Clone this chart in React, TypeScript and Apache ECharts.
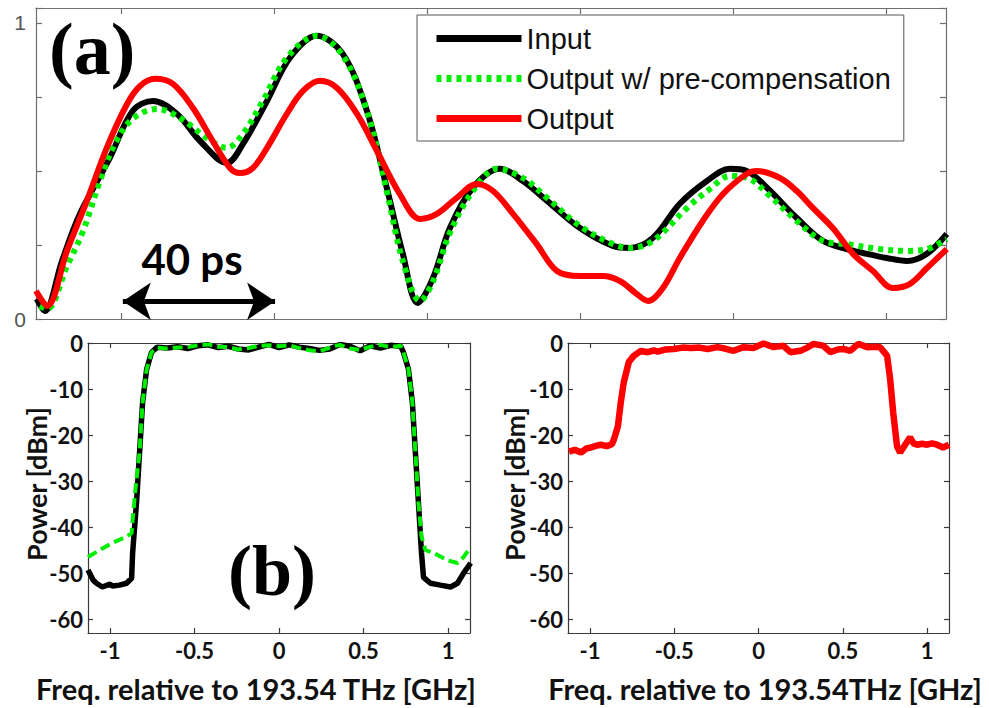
import React, { useEffect, useRef } from "react";
import * as echarts from "echarts";

// ---------- Panel (a): temporal intensity (normalized), time in ps ----------
const inputTop: [number, number][] = [
  [-22.0, 0.068], [-19.9, 0.027], [-15.4, 0.196], [-10.7, 0.355], [-2.9, 0.544], [3.1, 0.703],
  [8.4, 0.736], [14.6, 0.693], [20.7, 0.601], [27.7, 0.527], [31.9, 0.591], [38.2, 0.736],
  [44.2, 0.882], [51.2, 0.956], [58.0, 0.895], [64.3, 0.703], [69.5, 0.443], [73.7, 0.22],
  [77.6, 0.054], [81.6, 0.139], [86.0, 0.307], [92.0, 0.443], [99.1, 0.507], [105.1, 0.466],
  [111.4, 0.399], [120.0, 0.307], [128.6, 0.247], [133.1, 0.24], [139.1, 0.274], [146.1, 0.389],
  [153.2, 0.466], [159.2, 0.507], [163.6, 0.5], [168.9, 0.443], [176.7, 0.341], [183.5, 0.264],
  [189.8, 0.236], [194.0, 0.223], [200.2, 0.206], [205.5, 0.196], [210.7, 0.22], [215.9, 0.287],
];

const precompTop: [number, number][] = [
  [-21.2, 0.044], [-19.3, 0.034], [-14.1, 0.179], [-9.9, 0.297], [-5.5, 0.466], [-1.6, 0.591],
  [3.1, 0.676], [9.4, 0.709], [15.4, 0.679], [22.5, 0.611], [27.7, 0.578], [31.9, 0.625],
  [37.1, 0.736], [43.4, 0.882], [51.2, 0.956], [58.0, 0.889], [64.3, 0.703], [69.5, 0.432],
  [73.7, 0.196], [78.2, 0.061], [81.6, 0.128], [86.0, 0.291], [92.0, 0.432], [98.3, 0.507],
  [105.1, 0.476], [111.4, 0.409], [120.0, 0.314], [128.6, 0.253], [133.1, 0.24], [139.1, 0.264],
  [148.0, 0.375], [154.0, 0.439], [159.2, 0.483], [164.4, 0.473], [169.6, 0.416], [176.7, 0.331],
  [183.5, 0.264], [189.8, 0.253], [198.4, 0.236], [205.5, 0.23], [210.7, 0.236], [215.9, 0.27],
];

const outputTop: [number, number][] = [
  [-22.2, 0.095], [-19.3, 0.044], [-14.1, 0.23], [-8.9, 0.399], [-3.7, 0.578], [1.6, 0.726],
  [5.0, 0.787], [8.9, 0.811], [13.6, 0.794], [18.8, 0.713], [24.0, 0.601], [28.5, 0.51],
  [31.1, 0.493], [34.5, 0.51], [38.2, 0.578], [43.4, 0.693], [47.6, 0.77], [52.0, 0.804],
  [56.5, 0.78], [61.7, 0.693], [66.9, 0.568], [72.9, 0.422], [78.2, 0.338], [82.6, 0.355],
  [87.8, 0.409], [93.1, 0.456], [97.3, 0.432], [102.5, 0.355], [108.7, 0.253], [114.0, 0.162],
  [120.0, 0.145], [126.0, 0.145], [130.5, 0.128], [134.9, 0.084], [137.8, 0.061], [141.7, 0.105],
  [146.1, 0.206], [152.1, 0.331], [157.4, 0.422], [163.6, 0.49], [166.3, 0.5], [172.3, 0.476],
  [176.7, 0.432], [180.9, 0.375], [186.1, 0.307], [191.4, 0.22], [196.6, 0.162], [201.8, 0.105],
  [206.2, 0.118], [210.7, 0.172], [215.9, 0.236],
];

const timeTicks = [0, 40, 80, 120, 160, 200];
const intensityLabels = [0, 1];

// ---------- Panel (b): spectra, GHz vs dBm ----------
const inputSpectrum: [number, number][] = [
  [-1.13, -49.3], [-1.1, -51.5], [-1.08, -52.2], [-1.045, -53], [-1.0, -52.4], [-0.985, -52.8],
  [-0.944, -52.6], [-0.902, -52.2], [-0.872, -51.1], [-0.866, -45.6], [-0.843, -34.7],
  [-0.825, -23.8], [-0.807, -12.9], [-0.783, -5.7], [-0.754, -2.0], [-0.72, -0.9],
  [-0.66, -1.1], [-0.6, -0.8], [-0.54, -1.2], [-0.48, -0.6], [-0.42, -0.4], [-0.36, -1.0],
  [-0.3, -0.7], [-0.24, -1.3], [-0.18, -1.5], [-0.12, -0.9], [-0.06, -0.3], [0, -1.0],
  [0.06, -0.4], [0.12, -0.9], [0.18, -1.2], [0.24, -1.6], [0.3, -1.3], [0.36, -0.3],
  [0.42, -0.7], [0.48, -1.7], [0.54, -0.6], [0.6, -1.1], [0.66, -0.5], [0.72, -0.7],
  [0.736, -2], [0.766, -5.7], [0.789, -12.9], [0.807, -23.8], [0.825, -34.7], [0.843, -45.6],
  [0.855, -50.9], [0.896, -52.2], [0.955, -52.6], [1.015, -53], [1.056, -52.2], [1.092, -50],
  [1.134, -47.8],
];

const precompSpectrum: [number, number][] = [
  [-1.13, -46.5], [-1.062, -45], [-0.985, -43.4], [-0.902, -42.1], [-0.872, -41.3],
  [-0.866, -38.4], [-0.85, -32], [-0.825, -23.8], [-0.807, -12.9], [-0.783, -5.7],
  [-0.754, -2.0], [-0.72, -1.0], [-0.66, -1.2], [-0.6, -1.0], [-0.54, -0.9], [-0.48, -0.5],
  [-0.42, -0.3], [-0.36, -0.8], [-0.3, -0.9], [-0.24, -1.4], [-0.18, -1.1], [-0.12, -0.6],
  [-0.06, -0.5], [0, -0.7], [0.06, -0.5], [0.12, -1.1], [0.18, -1.6], [0.24, -1.8],
  [0.3, -1.0], [0.36, -0.4], [0.42, -1.2], [0.48, -1.5], [0.54, -0.8], [0.6, -0.4],
  [0.66, -0.9], [0.72, -0.6], [0.736, -2], [0.766, -5.7], [0.789, -12.9], [0.807, -23.8],
  [0.825, -34.7], [0.843, -42], [0.866, -45], [0.914, -45.6], [0.997, -47.2], [1.056, -47.8],
  [1.092, -46.5], [1.134, -44.3],
];

const outputSpectrum: [number, number][] = [
  [-1.124, -23.6], [-1.09, -23.2], [-1.053, -23.8], [-1.02, -22.9], [-0.994, -22.7],
  [-0.96, -22.3], [-0.935, -22.1], [-0.9, -22.4], [-0.87, -22], [-0.858, -21], [-0.834, -18.1],
  [-0.817, -12.9], [-0.799, -8.5], [-0.769, -4.1], [-0.74, -2.8], [-0.698, -1.7],
  [-0.657, -2.0], [-0.62, -1.6], [-0.598, -1.9], [-0.55, -1.4], [-0.503, -1.3], [-0.45, -1.0],
  [-0.402, -1.1], [-0.35, -1.0], [-0.302, -1.3], [-0.243, -0.9], [-0.2, -1.2], [-0.148, -1.7],
  [-0.089, -0.9], [-0.03, -1.1], [0.03, -0.1], [0.089, -0.9], [0.148, -0.6], [0.189, -2.0],
  [0.249, -1.7], [0.29, -1.0], [0.325, -0.2], [0.385, -0.6], [0.426, -2.0], [0.47, -1.4],
  [0.503, -1.3], [0.544, -1.7], [0.592, -0.2], [0.645, -0.9], [0.69, -0.8], [0.722, -0.9],
  [0.763, -2.8], [0.781, -7.9], [0.799, -15.1], [0.822, -22.5], [0.84, -23.8], [0.87, -22.1],
  [0.899, -20.5], [0.92, -21.8], [0.941, -22.1], [0.97, -21.9], [1.0, -22.1], [1.03, -21.8],
  [1.059, -22.1], [1.095, -22.7], [1.13, -22.1],
];

const freqTicks = [-1, -0.5, 0, 0.5, 1];
const powerTicks = [-60, -50, -40, -30, -20, -10, 0];

const legendNames = ["Input", "Output w/ pre-compensation", "Output"];
const xTitleLeft = "Freq. relative to 193.54 THz [GHz]";
const xTitleRight = "Freq. relative to 193.54THz [GHz]";
const yTitle = "Power [dBm]";

const BOLD_FONT = "Lato";

export default function App() {
  const ref = useRef<HTMLDivElement>(null);
  useEffect(() => {
    if (!ref.current) return;
    const chart = echarts.init(ref.current, undefined, { renderer: "svg" });

    const topLine = { lineStyle: { color: "#6e6e6e", width: 1.2 } };
    const botLine = { lineStyle: { color: "#3a3a3a", width: 1.2 } };

    const timeAxis = (pos: "bottom" | "top") => ({
      type: "value",
      gridIndex: 0,
      position: pos,
      min: -22.2,
      max: 215.7,
      axisLine: { show: true, onZero: false, ...topLine },
      axisTick: { show: true, inside: true, length: 6, customValues: timeTicks, ...topLine },
      axisLabel: { show: false },
      splitLine: { show: false },
    });
    const intensityAxis = (pos: "left" | "right") => ({
      type: "value",
      gridIndex: 0,
      position: pos,
      min: 0,
      max: 1.05,
      interval: 0.25,
      axisLine: { show: true, onZero: false, ...topLine },
      axisTick: { show: true, inside: true, length: 6, ...topLine },
      axisLabel: {
        show: pos === "left",
        margin: 10,
        color: "#555",
        fontFamily: "Liberation Sans",
        fontSize: 21,
        customValues: intensityLabels,
      },
      splitLine: { show: false },
    });
    const freqAxis = (grid: number, pos: "bottom" | "top") => ({
      type: "value",
      gridIndex: grid,
      position: pos,
      min: -1.13,
      max: 1.13,
      axisLine: { show: true, onZero: false, ...botLine },
      axisTick: { show: true, inside: true, length: 5, customValues: freqTicks, ...botLine },
      axisLabel: {
        show: pos === "bottom",
        customValues: freqTicks,
        margin: 6,
        color: "#111",
        fontFamily: BOLD_FONT,
        fontWeight: "bold",
        fontSize: 22,
      },
      splitLine: { show: false },
    });
    const powerAxis = (grid: number, pos: "left" | "right") => ({
      type: "value",
      gridIndex: grid,
      position: pos,
      min: -63,
      max: 0,
      axisLine: { show: true, onZero: false, ...botLine },
      axisTick: { show: true, inside: true, length: 5, customValues: powerTicks, ...botLine },
      axisLabel: {
        show: pos === "left",
        customValues: powerTicks,
        margin: 5,
        color: "#111",
        fontFamily: BOLD_FONT,
        fontWeight: "bold",
        fontSize: 22,
      },
      splitLine: { show: false },
    });

    const option: any = {
      animation: false,
      backgroundColor: "#ffffff",
      grid: [
        { left: 36, top: 8, width: 910, height: 311, outerBoundsMode: "none" },
        { left: 88, top: 343, width: 382, height: 290, outerBoundsMode: "none" },
        { left: 568, top: 343, width: 381, height: 290, outerBoundsMode: "none" },
      ],
      xAxis: [
        timeAxis("bottom"),
        timeAxis("top"),
        freqAxis(1, "bottom"),
        freqAxis(1, "top"),
        freqAxis(2, "bottom"),
        freqAxis(2, "top"),
      ],
      yAxis: [
        intensityAxis("left"),
        intensityAxis("right"),
        powerAxis(1, "left"),
        powerAxis(1, "right"),
        powerAxis(2, "left"),
        powerAxis(2, "right"),
      ],
      legend: {
        data: legendNames,
        orient: "vertical",
        left: 417,
        top: 15,
        itemWidth: 85,
        itemHeight: 14,
        itemGap: 11,
        padding: [9, 13, 8, 16],
        borderColor: "#555",
        borderWidth: 1,
        backgroundColor: "#fff",
        selectedMode: false,
        lineStyle: { width: 7 },
        itemStyle: { opacity: 0, borderWidth: 0 },
        textStyle: {
          fontFamily: "Liberation Sans",
          fontSize: 29,
          color: "#111",
          padding: [0, 0, 0, 0],
        },
      },
      series: [
        {
          name: "Input",
          type: "line",
          xAxisIndex: 0,
          yAxisIndex: 0,
          data: inputTop,
          symbol: "none",
          smooth: 0.35,
          lineStyle: { color: "#000", width: 6 },
          itemStyle: { color: "#000" },
        },
        {
          name: "Output w/ pre-compensation",
          type: "line",
          xAxisIndex: 0,
          yAxisIndex: 0,
          data: precompTop,
          symbol: "none",
          smooth: 0.35,
          lineStyle: { color: "#00ee00", width: 6, type: [5, 5], cap: "butt" },
          itemStyle: { color: "#00ee00" },
        },
        {
          name: "Output",
          type: "line",
          xAxisIndex: 0,
          yAxisIndex: 0,
          data: outputTop,
          symbol: "none",
          smooth: 0.35,
          lineStyle: { color: "#ff0000", width: 6 },
          itemStyle: { color: "#ff0000" },
        },
        {
          name: "40 ps marker",
          type: "line",
          xAxisIndex: 0,
          yAxisIndex: 0,
          data: [],
          silent: true,
          markLine: {
            silent: true,
            symbol: ["arrow", "arrow"],
            symbolSize: [28, 28],
            label: { show: false },
            lineStyle: { color: "#000", width: 5, type: "solid" },
            data: [[{ coord: [0.5, 0.06] }, { coord: [40.3, 0.06] }]],
          },
        },
        {
          name: "Input spectrum",
          type: "line",
          xAxisIndex: 2,
          yAxisIndex: 2,
          data: inputSpectrum,
          symbol: "none",
          lineStyle: { color: "#000", width: 5.5 },
        },
        {
          name: "Pre-compensated spectrum",
          type: "line",
          xAxisIndex: 2,
          yAxisIndex: 2,
          data: precompSpectrum,
          symbol: "none",
          lineStyle: { color: "#00ee00", width: 4, type: [10, 5], cap: "butt" },
        },
        {
          name: "Output spectrum",
          type: "line",
          xAxisIndex: 4,
          yAxisIndex: 4,
          data: outputSpectrum,
          symbol: "none",
          lineStyle: { color: "#ff0000", width: 6.5 },
        },
      ],
      graphic: [
        {
          type: "text",
          left: 49,
          top: 12,
          z: 100,
          style: {
            text: "(a)",
            font: "bold 74px 'Liberation Serif'",
            fill: "#000",
          },
        },
        {
          type: "text",
          left: 228,
          top: 535,
          z: 100,
          style: {
            text: "(b)",
            font: "bold 72px 'Liberation Serif'",
            fill: "#000",
          },
        },
        {
          type: "text",
          x: 192,
          y: 259,
          z: 100,
          style: {
            text: "40 ps",
            font: `bold 42px ${BOLD_FONT}`,
            fill: "#000",
            align: "center",
            verticalAlign: "middle",
          },
        },
        {
          type: "text",
          x: 256,
          y: 688,
          style: {
            text: xTitleLeft,
            font: `bold 29px ${BOLD_FONT}`,
            fill: "#111",
            align: "center",
            verticalAlign: "middle",
          },
        },
        {
          type: "text",
          x: 765,
          y: 688,
          style: {
            text: xTitleRight,
            font: `bold 29px ${BOLD_FONT}`,
            fill: "#111",
            align: "center",
            verticalAlign: "middle",
          },
        },
        {
          type: "text",
          x: 36,
          y: 484,
          rotation: Math.PI / 2,
          style: {
            text: yTitle,
            font: `bold 27px ${BOLD_FONT}`,
            fill: "#111",
            align: "center",
            verticalAlign: "middle",
          },
        },
        {
          type: "text",
          x: 514,
          y: 484,
          rotation: Math.PI / 2,
          style: {
            text: yTitle,
            font: `bold 27px ${BOLD_FONT}`,
            fill: "#111",
            align: "center",
            verticalAlign: "middle",
          },
        },
      ],
    };

    chart.setOption(option);
    return () => chart.dispose();
  }, []);

  return (
    <div
      ref={ref}
      style={{ position: "fixed", left: 0, top: 0, width: 989, height: 708, background: "#fff" }}
    />
  );
}
